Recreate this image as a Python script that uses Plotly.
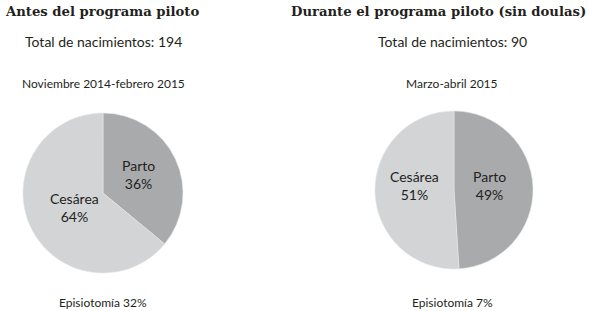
import plotly.graph_objects as go

labels = ["Parto", "Cesárea"]
antes_values = [36, 64]
durante_values = [49, 51]
colors = ["#a9aaac", "#d3d4d6"]

titles = ["Antes del programa piloto", "Durante el programa piloto (sin doulas)"]
totals = ["Total de nacimientos: 194", "Total de nacimientos: 90"]
periods = ["Noviembre 2014-febrero 2015", "Marzo-abril 2015"]
episiotomia = ["Episiotomía 32%", "Episiotomía 7%"]

W, H = 589, 311
sans = "Lato, 'Open Sans', sans-serif"
serif = "'DejaVu Serif', serif"
ink = "#231f20"

fig = go.Figure()
pie_common = dict(
    labels=labels, sort=False, direction="clockwise", rotation=0,
    marker=dict(colors=colors, line=dict(color="#e4e5e6", width=0.6)),
    textinfo="none", showlegend=False, hoverinfo="label+percent",
)
fig.add_trace(go.Pie(values=antes_values,
                     domain=dict(x=[23/W, 183/W], y=[(H-273)/H, (H-113)/H]), **pie_common))
fig.add_trace(go.Pie(values=durante_values,
                     domain=dict(x=[375/W, 533/W], y=[(H-269)/H, (H-111)/H]), **pie_common))

ann = []
centers = [103, 452]
title_x = [(3, "left"), (588, "right")]
for i in range(2):
    tx, anchor = title_x[i]
    ann.append(dict(text="<b>" + titles[i] + "</b>", x=tx/W, y=(H-12)/H, xanchor=anchor, yanchor="middle",
                    showarrow=False, font=dict(family=serif, size=13.2, color=ink)))
    ann.append(dict(text=totals[i], x=centers[i]/W, y=(H-42)/H, xanchor="center", yanchor="middle",
                    showarrow=False, font=dict(family=sans, size=14, color=ink)))
    ann.append(dict(text=periods[i], x=centers[i]/W, y=(H-84)/H, xanchor="center", yanchor="middle",
                    showarrow=False, font=dict(family=sans, size=12, color=ink)))
    ann.append(dict(text=episiotomia[i], x=centers[i]/W, y=(H-302)/H, xanchor="center", yanchor="middle",
                    showarrow=False, font=dict(family=sans, size=12, color=ink)))

# slice labels (text built from the data arrays)
slice_label_pos = [[(138, 174), (74, 207)], [(489, 185), (414, 185)]]
for i, vals in enumerate([antes_values, durante_values]):
    tot = sum(vals)
    for j, v in enumerate(vals):
        px, py = slice_label_pos[i][j]
        ann.append(dict(text=f"{labels[j]}<br>{round(100*v/tot)}%", x=px/W, y=(H-py)/H,
                        xanchor="center", yanchor="middle", showarrow=False,
                        font=dict(family=sans, size=14, color=ink)))

fig.update_layout(width=W, height=H, margin=dict(l=0, r=0, t=0, b=0),
                  paper_bgcolor="white", plot_bgcolor="white", annotations=ann)
fig.write_html("out.html", config={"displayModeBar": False},
               post_script="document.body.style.margin='0px';")
